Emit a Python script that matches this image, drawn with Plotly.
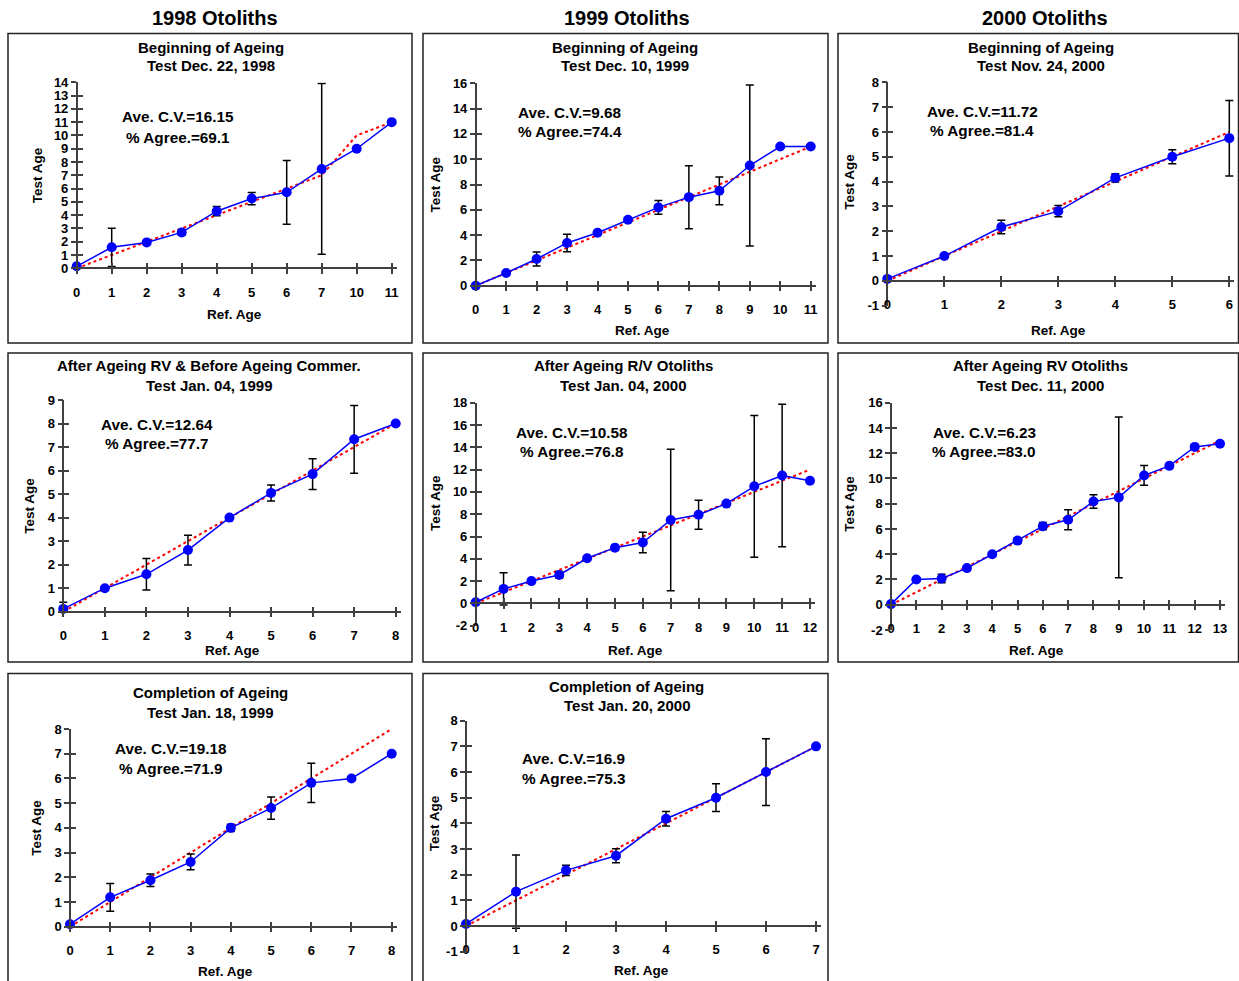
import plotly.graph_objects as go

W, H = 1239, 981
FONT = "Liberation Sans, Arial, sans-serif"

# ---------------- data ----------------
col_titles = ["1998 Otoliths", "1999 Otoliths", "2000 Otoliths"]

p1_title = ["Beginning of Ageing", "Test Dec. 22, 1998"]
p1_ref = [0, 1, 2, 3, 4, 5, 6, 7, 10, 11]
p1_test = [0.15, 1.58, 1.95, 2.7, 4.3, 5.25, 5.72, 7.48, 9.0, 11.0]
p1_err = [0, 1.44, 0, 0.22, 0.35, 0.46, 2.4, 6.43, 0, 0]
p1_cv, p1_agree = "16.15", "69.1"

p2_title = ["Beginning of Ageing", "Test Dec. 10, 1999"]
p2_ref = [0, 1, 2, 3, 4, 5, 6, 7, 8, 9, 10, 11]
p2_test = [0.0, 1.0, 2.11, 3.38, 4.19, 5.22, 6.19, 7.0, 7.5, 9.5, 11.0, 11.0]
p2_err = [0, 0, 0.55, 0.69, 0, 0.15, 0.55, 2.49, 1.1, 6.36, 0, 0]
p2_cv, p2_agree = "9.68", "74.4"

p3_title = ["Beginning of Ageing", "Test Nov. 24, 2000"]
p3_ref = [0, 1, 2, 3, 4, 5, 6]
p3_test = [0.08, 1.0, 2.17, 2.81, 4.15, 5.0, 5.75]
p3_err = [0, 0, 0.27, 0.23, 0.17, 0.28, 1.52]
p3_cv, p3_agree = "11.72", "81.4"

p4_title = ["After Ageing RV & Before Ageing Commer.", "Test Jan. 04, 1999"]
p4_ref = [0, 1, 2, 3, 4, 5, 6, 7, 8]
p4_test = [0.12, 1.0, 1.59, 2.62, 4.0, 5.05, 5.85, 7.33, 8.0]
p4_err = [0.28, 0, 0.67, 0.63, 0, 0.34, 0.65, 1.44, 0]
p4_cv, p4_agree = "12.64", "77.7"

p5_title = ["After Ageing R/V Otoliths", "Test Jan. 04, 2000"]
p5_ref = [0, 1, 2, 3, 4, 5, 6, 7, 8, 9, 10, 11, 12]
p5_test = [0.1, 1.3, 2.0, 2.55, 4.05, 5.0, 5.46, 7.48, 7.95, 8.95, 10.5, 11.47, 11.0]
p5_err = [0, 1.45, 0, 0.3, 0, 0, 0.91, 6.34, 1.3, 0, 6.36, 6.39, 0]
p5_cv, p5_agree = "10.58", "76.8"

p6_title = ["After Ageing RV Otoliths", "Test Dec. 11, 2000"]
p6_ref = [0, 1, 2, 3, 4, 5, 6, 7, 8, 9, 10, 11, 12, 13]
p6_test = [0.05, 2.0, 2.08, 2.9, 4.0, 5.08, 6.22, 6.73, 8.18, 8.5, 10.24, 11.0, 12.5, 12.75]
p6_err = [0, 0, 0.34, 0, 0, 0.2, 0.29, 0.8, 0.54, 6.37, 0.78, 0, 0, 0]
p6_cv, p6_agree = "6.23", "83.0"

p7_title = ["Completion of Ageing", "Test Jan. 18, 1999"]
p7_ref = [0, 1, 2, 3, 4, 5, 6, 7, 8]
p7_test = [0.1, 1.19, 1.88, 2.62, 4.0, 4.8, 5.82, 6.0, 7.0]
p7_err = [0.1, 0.56, 0.25, 0.32, 0.15, 0.45, 0.79, 0, 0]
p7_cv, p7_agree = "19.18", "71.9"

p8_title = ["Completion of Ageing", "Test Jan. 20, 2000"]
p8_ref = [0, 1, 2, 3, 4, 5, 6, 7]
p8_test = [0.08, 1.34, 2.17, 2.74, 4.18, 5.0, 6.0, 7.0]
p8_err = [0, 1.43, 0.2, 0.27, 0.28, 0.54, 1.3, 0]
p8_cv, p8_agree = "16.9", "75.3"

# ---------------- layout (pixel geometry) ----------------
def PX(x):
    return x / W

def PY(y):
    return 1 - y / H

panels = [
    dict(t=p1_title, ref=p1_ref, test=p1_test, err=p1_err, cv=p1_cv, ag=p1_agree,
         yr=[0, 14], dt=1, x0=76.7, x1=391.7, yt=82.3, yb=268.3, xa=268.3,
         box=(8, 33.5, 412, 343), tx=211, ty=(47, 65.5), sx=178, sy=(117, 137.5),
         ytx=37, xtx=(234, 314)),
    dict(t=p2_title, ref=p2_ref, test=p2_test, err=p2_err, cv=p2_cv, ag=p2_agree,
         yr=[0, 16], dt=2, x0=475.7, x1=810.7, yt=83.3, yb=285.7, xa=285.7,
         box=(423, 33.5, 828, 343), tx=625, ty=(47, 65.5), sx=569.5, sy=(112.7, 131.7),
         ytx=435, xtx=(642, 330.5)),
    dict(t=p3_title, ref=p3_ref, test=p3_test, err=p3_err, cv=p3_cv, ag=p3_agree,
         yr=[-1, 8], dt=1, x0=887.3, x1=1229.3, yt=82.3, yb=305.7, xa=281,
         box=(838, 33.5, 1238.5, 343), tx=1040.7, ty=(47, 65.5), sx=982.5, sy=(111.7, 130.7),
         ytx=850, xtx=(1058, 330)),
    dict(t=p4_title, ref=p4_ref, test=p4_test, err=p4_err, cv=p4_cv, ag=p4_agree,
         yr=[0, 9], dt=1, x0=63.3, x1=395.7, yt=400, yb=611.7, xa=611.7,
         box=(8, 353, 412, 662), tx=209, ty=(365.5, 385), sx=157, sy=(424, 443.3),
         ytx=30, xtx=(232, 650)),
    dict(t=p5_title, ref=p5_ref, test=p5_test, err=p5_err, cv=p5_cv, ag=p5_agree,
         yr=[-2, 18], dt=2, x0=475.7, x1=810, yt=402.7, yb=625.7, xa=603.3,
         box=(423, 353, 828, 662), tx=623.3, ty=(365.5, 385), sx=572, sy=(432.7, 451.7),
         ytx=435, xtx=(635, 650.5)),
    dict(t=p6_title, ref=p6_ref, test=p6_test, err=p6_err, cv=p6_cv, ag=p6_agree,
         yr=[-2, 16], dt=2, x0=891, x1=1220, yt=402.7, yb=630, xa=604.7,
         box=(838, 353, 1238.5, 662), tx=1040.7, ty=(365.5, 385), sx=984.3, sy=(432.7, 451.7),
         ytx=850, xtx=(1036, 650.5)),
    dict(t=p7_title, ref=p7_ref, test=p7_test, err=p7_err, cv=p7_cv, ag=p7_agree,
         yr=[0, 8], dt=1, x0=70, x1=391.7, yt=729, yb=926.7, xa=926.7,
         box=(8, 673.5, 412, 1000), tx=210, ty=(692.7, 712.7), sx=171.3, sy=(748.3, 768.3),
         ytx=37, xtx=(225, 971)),
    dict(t=p8_title, ref=p8_ref, test=p8_test, err=p8_err, cv=p8_cv, ag=p8_agree,
         yr=[-1, 8], dt=1, x0=466, x1=816, yt=720.7, yb=951.7, xa=926,
         box=(423, 673.5, 828, 1000), tx=626.7, ty=(686, 705), sx=573.7, sy=(758.3, 778.3),
         ytx=434, xtx=(641, 970.5)),
]

AXC = "#404040"
PAD = 5  # px of x-range padding on each side (keeps error-bar caps unclipped)
TL = 5   # tick half length (ticks cross the axis line)
fig = go.Figure()
layout = dict(width=W, height=H,
              margin=dict(l=0, r=0, t=0, b=0, pad=0, autoexpand=False),
              autosize=False,
              paper_bgcolor="white", plot_bgcolor="rgba(0,0,0,0)",
              showlegend=False, font=dict(family=FONT, color="black"))
annotations = []
shapes = []
tickfont = dict(family=FONT, size=13, color="black", weight="bold")
NP = len(panels)

for i, p in enumerate(panels, start=1):
    xn = "x" if i == 1 else f"x{i}"
    yn = "y" if i == 1 else f"y{i}"
    xo, yo = f"x{i + NP}", f"y{i + NP}"
    cats = [str(a) for a in p["ref"]]
    n = len(cats)
    step = (p["x1"] - p["x0"]) / (n - 1)
    e = PAD / step
    xr = [-e, n - 1 + e]
    xdom = [PX(p["x0"] - PAD), PX(p["x1"] + PAD)]
    ydom = [PY(p["yb"]), PY(p["yt"])]
    xpos = PY(p["xa"])
    yvals = list(range(p["yr"][0], p["yr"][1] + 1, p["dt"]))

    # reference 1:1 line
    fig.add_trace(go.Scatter(x=cats, y=p["ref"], mode="lines", xaxis=xn, yaxis=yn,
                             line=dict(color="red", width=2, dash="dot"),
                             hoverinfo="skip", cliponaxis=False))
    fig.add_trace(go.Scatter(x=cats, y=p["test"], mode="lines+markers", xaxis=xn, yaxis=yn,
                             line=dict(color="#0000FF", width=1.5),
                             marker=dict(color="#0000FF", size=10),
                             error_y=dict(type="data", array=p["err"], visible=True,
                                          color="black", thickness=1.5, width=4),
                             cliponaxis=False))
    # dummy trace for the inside-tick overlay axes
    fig.add_trace(go.Scatter(x=[None], y=[None], xaxis=xo, yaxis=yo,
                             hoverinfo="skip", showlegend=False))

    common = dict(showgrid=False, zeroline=False, fixedrange=True,
                  tickwidth=1.5, tickcolor=AXC, ticklen=TL)
    xa = dict(domain=xdom, type="category", categoryorder="array", categoryarray=cats,
              range=xr, showline=True, linecolor=AXC, linewidth=1.5,
              ticks="outside", ticklabelstandoff=7, tickfont=tickfont,
              anchor="free", position=xpos, **common)
    ya = dict(domain=ydom, range=p["yr"], tickvals=yvals, ticktext=[str(v) for v in yvals],
              anchor="free", position=PX(p["x0"]),
              showline=True, linecolor=AXC, linewidth=1.5,
              ticks="outside", tickfont=tickfont, **common)
    xov = dict(overlaying=xn, type="linear", range=xr, tickvals=list(range(n)),
               ticks="inside", showticklabels=False, showline=False,
               anchor="free", position=xpos, **common)
    yov = dict(overlaying=yn, range=p["yr"], tickvals=yvals,
               ticks="inside", showticklabels=False, showline=False,
               anchor="free", position=PX(p["x0"]), **common)
    layout["xaxis" if i == 1 else f"xaxis{i}"] = xa
    layout["yaxis" if i == 1 else f"yaxis{i}"] = ya
    layout[f"xaxis{i + NP}"] = xov
    layout[f"yaxis{i + NP}"] = yov

    # panel box
    bx0, by0, bx1, by1 = p["box"]
    shapes.append(dict(type="rect", xref="paper", yref="paper",
                       x0=PX(bx0), x1=PX(bx1), y0=PY(by1), y1=PY(by0),
                       line=dict(color="#222222", width=1.5), layer="below"))
    # titles
    for line, yy in zip(p["t"], p["ty"]):
        annotations.append(dict(text=f"<b>{line}</b>", x=PX(p["tx"]), y=PY(yy),
                                xref="paper", yref="paper", showarrow=False,
                                xanchor="center", yanchor="middle",
                                font=dict(family=FONT, size=15, color="black")))
    # stats
    for line, yy in zip([f"Ave. C.V.={p['cv']}", f"% Agree.={p['ag']}"], p["sy"]):
        annotations.append(dict(text=f"<b>{line}</b>", x=PX(p["sx"]), y=PY(yy),
                                xref="paper", yref="paper", showarrow=False,
                                xanchor="center", yanchor="middle",
                                font=dict(family=FONT, size=15.3, color="black")))
    # axis titles
    annotations.append(dict(text="<b>Test Age</b>", x=PX(p["ytx"]),
                            y=PY((p["yt"] + p["xa"]) / 2), xref="paper", yref="paper",
                            showarrow=False, textangle=-90, xanchor="center", yanchor="middle",
                            font=dict(family=FONT, size=13.5, color="black")))
    annotations.append(dict(text="<b>Ref. Age</b>", x=PX(p["xtx"][0]), y=PY(p["xtx"][1]),
                            xref="paper", yref="paper", showarrow=False,
                            xanchor="center", yanchor="middle",
                            font=dict(family=FONT, size=13.5, color="black")))

for txt, cx in zip(col_titles, [215, 626.7, 1044.7]):
    annotations.append(dict(text=f"<b>{txt}</b>", x=PX(cx), y=PY(18),
                            xref="paper", yref="paper", showarrow=False,
                            xanchor="center", yanchor="middle",
                            font=dict(family=FONT, size=20, color="black")))

layout["annotations"] = annotations
layout["shapes"] = shapes
fig.update_layout(**layout)

PAGE_FIX = (
    "document.documentElement.style.margin='0';document.body.style.margin='0';"
    "document.body.style.overflow='hidden';"
)
fig.write_html("out.html", post_script=PAGE_FIX)
